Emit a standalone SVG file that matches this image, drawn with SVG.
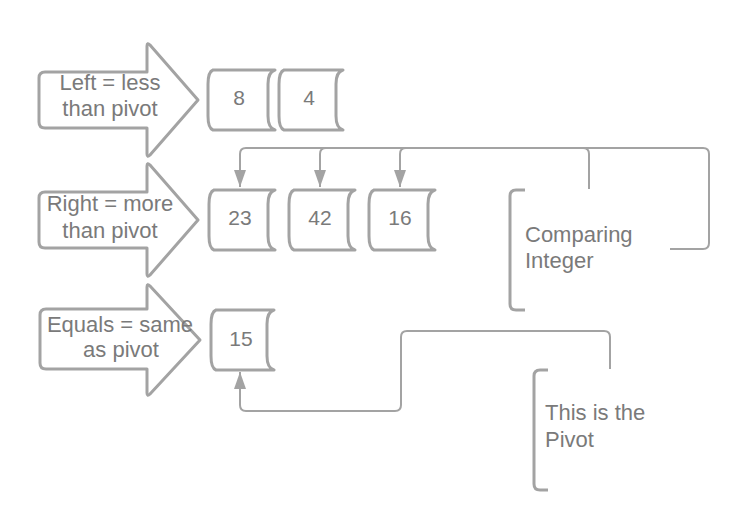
<svg xmlns="http://www.w3.org/2000/svg" width="750" height="530" viewBox="0 0 750 530">
<style>
.shape{fill:#ffffff;stroke:#a3a3a3;stroke-width:3;stroke-linejoin:round}
.open{fill:none;stroke:#a3a3a3;stroke-width:3;stroke-linejoin:round}
.conn{fill:none;stroke:#a3a3a3;stroke-width:2}
text{font-family:"Liberation Sans",Arial,sans-serif;font-size:22px;fill:#7a7a7a}
.n{font-size:21px;text-anchor:middle}
.c{text-anchor:middle}
</style>
<defs>
<marker id="ah" markerUnits="userSpaceOnUse" markerWidth="18" markerHeight="13" refX="17" refY="6" orient="auto">
<path d="M0,0 L17,6 L0,12 Z" fill="#a3a3a3"/>
</marker>
</defs>
<rect width="750" height="530" fill="#ffffff"/>

<g id="arrow-left">
<path class="shape" d="M39,78 Q39,72 45,72 L147,72 L147,46 Q147,42 150,45 L198,100 L150,155 Q147,158 147,154 L147,128 L45,128 Q39,128 39,122 Z"/>
<text class="c" x="110" y="90">Left = less</text>
<text class="c" x="110" y="116">than pivot</text>
</g>
<g id="arrow-right">
<path class="shape" d="M39,198 Q39,192 45,192 L147,192 L147,166 Q147,162 150,165 L198,220 L150,275 Q147,278 147,274 L147,248 L45,248 Q39,248 39,242 Z"/>
<text class="c" x="110" y="211">Right = more</text>
<text class="c" x="110" y="238">than pivot</text>
</g>
<g id="arrow-equals">
<path class="shape" d="M40,315 Q40,309 46,309 L147,309 L147,287 Q147,283 150,286 L200,340 L150,394 Q147,397 147,393 L147,369 L46,369 Q40,369 40,363 Z"/>
<text class="c" x="120" y="332">Equals = same</text>
<text class="c" x="121" y="357">as pivot</text>
</g>

<g id="box-8">
<path class="shape" d="M213,70 L275,70 Q268,72 268,84 L268,116 Q268,128 275,130 L213,130 Q208,128 208,116 L208,84 Q208,72 213,70 Z"/>
<text class="n" x="239" y="105">8</text>
</g>
<g id="box-4">
<path class="shape" d="M284,70 L343,70 Q336,72 336,84 L336,116 Q336,128 343,130 L284,130 Q279,128 279,116 L279,84 Q279,72 284,70 Z"/>
<text class="n" x="309" y="105">4</text>
</g>
<g id="box-23">
<path class="shape" d="M214,190 L275,190 Q268,192 268,204 L268,236 Q268,248 275,250 L214,250 Q209,248 209,236 L209,204 Q209,192 214,190 Z"/>
<text class="n" x="240" y="225">23</text>
</g>
<g id="box-42">
<path class="shape" d="M294,190 L355,190 Q348,192 348,204 L348,236 Q348,248 355,250 L294,250 Q289,248 289,236 L289,204 Q289,192 294,190 Z"/>
<text class="n" x="320" y="225">42</text>
</g>
<g id="box-16">
<path class="shape" d="M374,190 L435,190 Q428,192 428,204 L428,236 Q428,248 435,250 L374,250 Q369,248 369,236 L369,204 Q369,192 374,190 Z"/>
<text class="n" x="400" y="225">16</text>
</g>
<g id="box-15">
<path class="shape" d="M216,310 L274,310 Q267,312 267,324 L267,356 Q267,368 274,370 L216,370 Q211,368 211,356 L211,324 Q211,312 216,310 Z"/>
<text class="n" x="241" y="346">15</text>
</g>

<g id="note-comparing">
<path class="open" d="M525,190 L516,190 Q510,190 510,196 L510,304 Q510,310 516,310 L525,310"/>
<text x="525" y="242">Comparing</text>
<text x="525" y="268">Integer</text>
</g>
<g id="note-pivot">
<path class="open" d="M548,370 L540,370 Q534,370 534,376 L534,484 Q534,490 540,490 L548,490"/>
<text x="545" y="420">This is the</text>
<text x="545" y="447">Pivot</text>
</g>

<g id="connectors">
<path class="conn" marker-end="url(#ah)" d="M670,249 L703,249 Q709,249 709,243 L709,154 Q709,148 703,148 L246,148 Q240,148 240,154 L240,187"/>
<path class="conn" marker-end="url(#ah)" d="M326,148 Q320,148 320,154 L320,187"/>
<path class="conn" marker-end="url(#ah)" d="M406,148 Q400,148 400,154 L400,187"/>
<path class="conn" d="M589,189 L589,154 Q589,148 583,148"/>
<path class="conn" marker-end="url(#ah)" d="M610,369 L610,337 Q610,331 604,331 L407,331 Q401,331 401,337 L401,405 Q401,411 395,411 L246,411 Q240,411 240,405 L240,372"/>
</g>
</svg>
